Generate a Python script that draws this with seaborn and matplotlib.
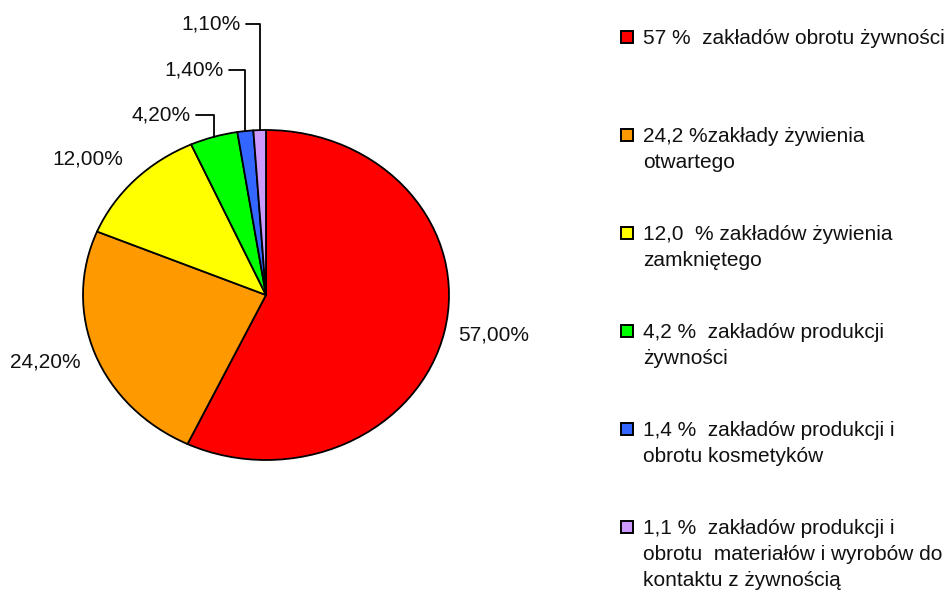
import numpy as np
import matplotlib
matplotlib.use("Agg")
import matplotlib.pyplot as plt
import seaborn as sns
from matplotlib.patches import Rectangle

# ---- data ----
values = [57.0, 24.2, 12.0, 4.2, 1.4, 1.1]
pct_labels = ["57,00%", "24,20%", "12,00%", "4,20%", "1,40%", "1,10%"]
legend_labels = [
    "57 %  zakładów obrotu żywności",
    "24,2 %zakłady żywienia\notwartego",
    "12,0  % zakładów żywienia\nzamkniętego",
    "4,2 %  zakładów produkcji\nżywności",
    "1,4 %  zakładów produkcji i\nobrotu kosmetyków",
    "1,1 %  zakładów produkcji i\nobrotu  materiałów i wyrobów do\nkontaktu z żywnością",
]
colors = ["#FF0000", "#FF9900", "#FFFF00", "#00FF00", "#3366FF", "#CC99FF"]

sns.set_theme(style="white")
plt.rcParams['font.family'] = ['Liberation Sans', 'DejaVu Sans']

W, H = 950, 594
FS = 15
fig = plt.figure(figsize=(W / 100, H / 100), dpi=100)
fig.patch.set_facecolor("white")

# pie geometry (pixels)
CX, CY, RX, RY = 266, 295, 183, 165
ax = fig.add_axes([0, 0, 1, 1])
wedges, _ = ax.pie(values, colors=colors, startangle=90, counterclock=False,
                   wedgeprops=dict(edgecolor="black", linewidth=1.3))
ax.set_aspect("auto")
ax.set_xlim(-CX / RX, (W - CX) / RX)
ax.set_ylim(-(H - CY) / RY, CY / RY)
ax.axis("off")


def px2data(px, py):
    return (px - CX) / RX, (CY - py) / RY


# big slice labels: (x pixel, y pixel, ha)
big_pos = [(458, 335, "left"), (81, 362, "right"), (123, 159, "right")]
for i, (px, py, ha) in enumerate(big_pos):
    x, y = px2data(px, py)
    ax.text(x, y, pct_labels[i], ha=ha, va="center", fontsize=FS, color="#111111")

# small slice labels with leader lines: (text right edge px, y px)
small_pos = [(191, 115), (224, 70), (241, 24)]
for j, (px, py) in enumerate(small_pos):
    i = 3 + j
    w = wedges[i]
    mid = np.deg2rad((w.theta1 + w.theta2) / 2)
    ex, ey = np.cos(mid), np.sin(mid)
    tx, ty = px2data(px, py)
    lx0, _ = px2data(px + 5, py)
    ax.plot([lx0, ex, ex], [ty, ty, ey], color="black", lw=1.3)
    ax.text(tx, ty, pct_labels[i], ha="right", va="center", fontsize=FS, color="#111111")

# legend drawn manually
leg_x_box = 621
leg_x_text = 643
leg_y0 = 37
leg_step = 98
for i, (lab, col) in enumerate(zip(legend_labels, colors)):
    py = leg_y0 + i * leg_step
    bx, by = px2data(leg_x_box, py + 6)
    ax.add_patch(Rectangle((bx, by), 12 / RX, 12 / RY, facecolor=col,
                           edgecolor="black", lw=1.4, clip_on=False))
    tx, ty = px2data(leg_x_text, py - 8)
    ax.text(tx, ty, lab, ha="left", va="top", fontsize=FS, color="#111111",
            linespacing=1.47)

fig.savefig("out.png", dpi=100, facecolor="white")
